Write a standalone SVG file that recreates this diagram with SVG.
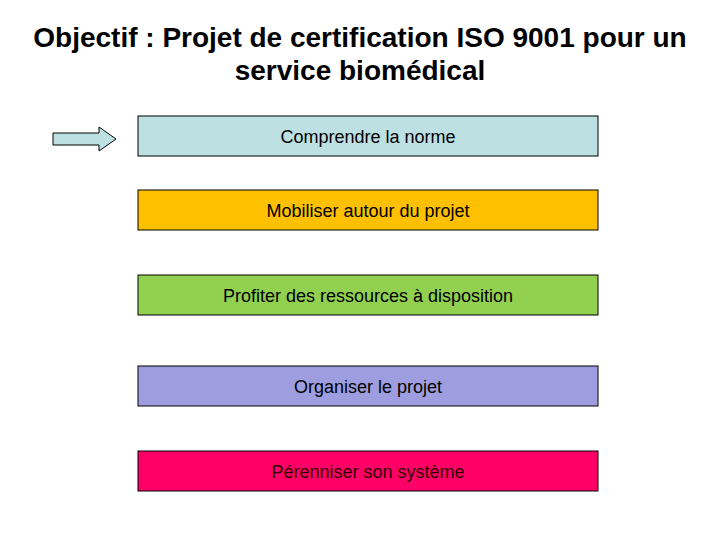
<svg xmlns="http://www.w3.org/2000/svg" width="720" height="540" viewBox="0 0 720 540">
<style>
.t{font-family:"Liberation Sans",Arial,sans-serif;font-weight:bold;font-size:28px;fill:#000;text-anchor:middle}
.b{stroke:#000;stroke-width:1}
.l{font-family:"Liberation Sans",Arial,sans-serif;font-size:18px;fill:#000;text-anchor:middle}
</style>
<rect width="720" height="540" fill="#fff"/>
<text class="t" x="360" y="47">Objectif : Projet de certification ISO 9001 pour un</text>
<text class="t" x="360" y="80">service biomédical</text>
<g id="connectors">
<polygon points="53,133 99,133 99,127 116,139 99,151 99,145 53,145" fill="#bde0e3" stroke="#000" stroke-width="1"/>
</g>
<g id="n1"><rect class="b" x="138" y="116" width="460" height="40" fill="#bde0e3"/><text class="l" x="368" y="143">Comprendre la norme</text></g>
<g id="n2"><rect class="b" x="138" y="190" width="460" height="40" fill="#ffc000"/><text class="l" x="368" y="217">Mobiliser autour du projet</text></g>
<g id="n3"><rect class="b" x="138" y="275" width="460" height="40" fill="#92d050"/><text class="l" x="368" y="302">Profiter des ressources à disposition</text></g>
<g id="n4"><rect class="b" x="138" y="366" width="460" height="40" fill="#9d9ddf"/><text class="l" x="368" y="393">Organiser le projet</text></g>
<g id="n5"><rect class="b" x="138" y="451" width="460" height="40" fill="#ff0066"/><text class="l" x="368" y="478" style="fill:#330000">Pérenniser son système</text></g>
</svg>
